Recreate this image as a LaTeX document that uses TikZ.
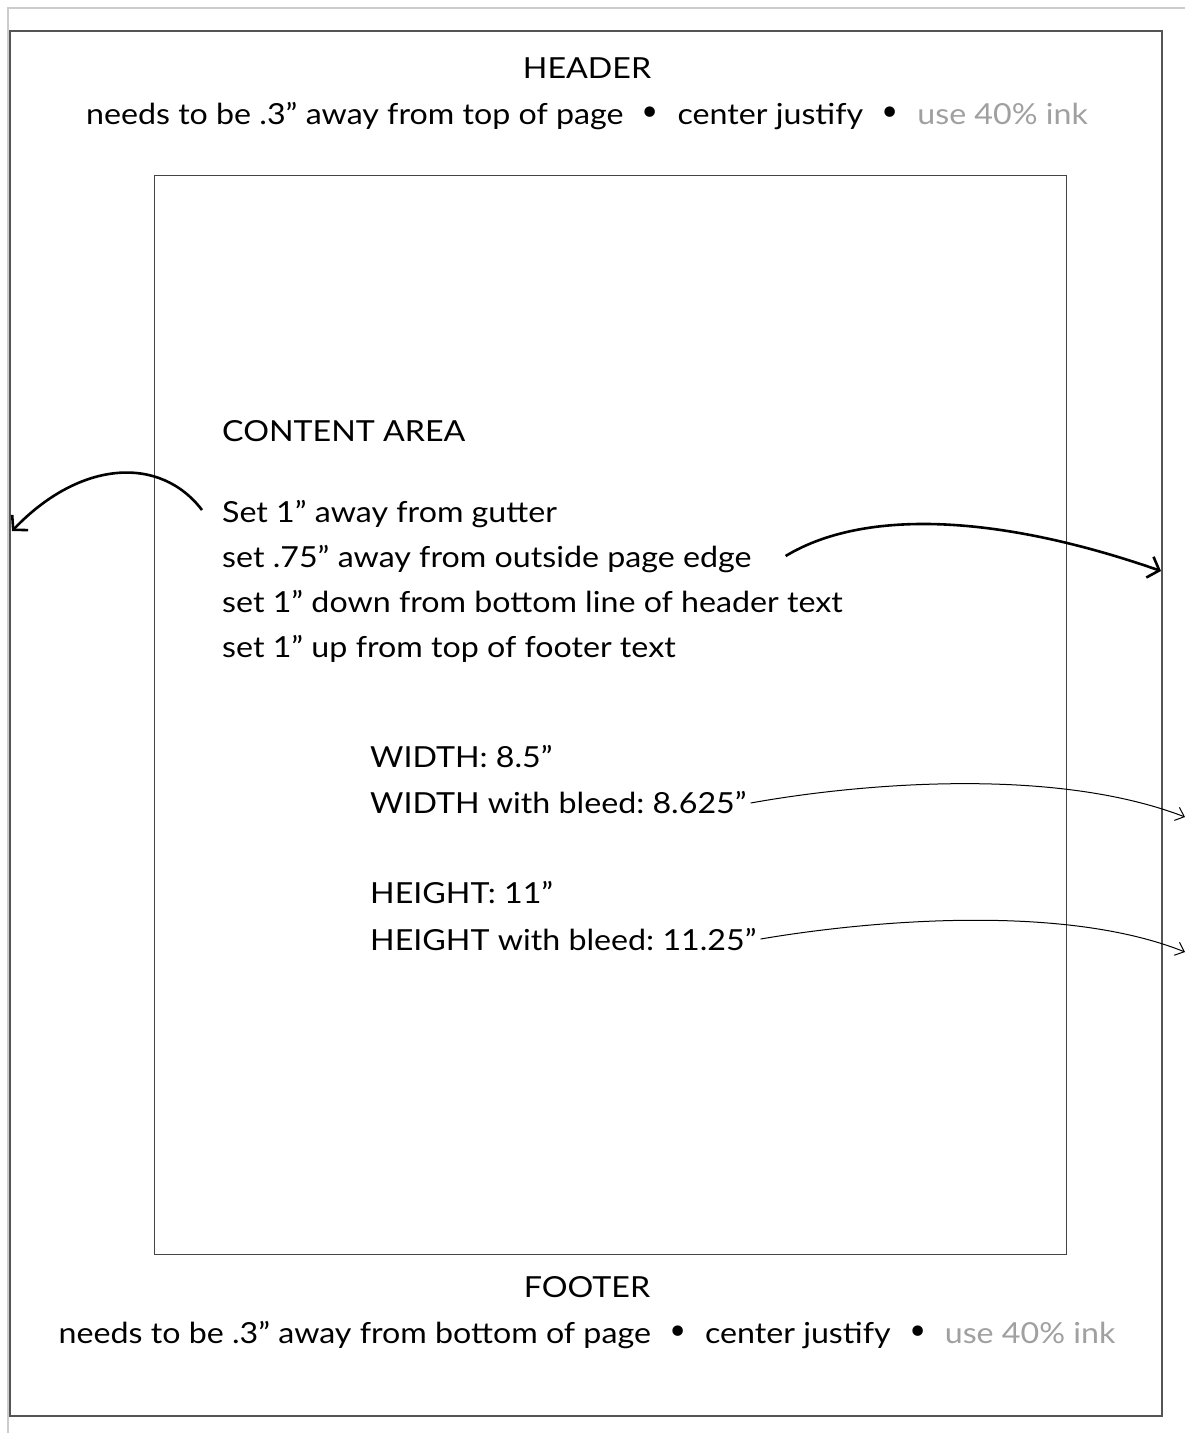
\documentclass[tikz,border=0pt]{standalone}
\usepackage{fontspec}
\setmainfont{Lato}[FakeStretch=1.11]
\newfontfamily\bulletfont{DejaVu Sans}
\usetikzlibrary{arrows.meta}
\definecolor{inkgray}{HTML}{A0A0A0}
\definecolor{framegray}{HTML}{555555}
\definecolor{edgegray}{HTML}{CCCCCC}
\newcommand{\sepdot}{\ \ \raisebox{-1.5pt}{\bulletfont\fontsize{36}{36}\selectfont •}\ \ }
\tikzset{
  txt/.style={inner sep=0pt, font=\fontsize{29}{45}\selectfont\frenchspacing, text=black},
  leftline/.style={txt, anchor=base west},
  midline/.style={txt, anchor=base},
  bigarrow/.style={line width=2.6pt, -{Straight Barb[length=10pt,width=22pt,line width=2.6pt]}},
  thinarrow/.style={line width=1pt, -{Straight Barb[length=8pt,width=14pt,line width=1pt]}},
}
\begin{document}
\begin{tikzpicture}[x=1pt,y=-1pt]
\useasboundingbox (0,0) rectangle (1185,1433);
% outer light edge
\draw[edgegray, line width=2pt] (8,1433) -- (8,8) -- (1185,8);
% page
\draw[framegray, line width=1.5pt] (10,31) rectangle (1162,1416);
% content area
\draw[framegray!80!black, line width=1pt] (154.5,175) rectangle (1066,1254);
% header
\node[midline] (hdr) at (587,78) {HEADER};
\node[midline] (hdr2) at (587,124) {needs to be .3” away from top of page\sepdot center justify\sepdot\textcolor{inkgray}{use 40\% ink}};
% footer
\node[midline] (ftr) at (587,1297) {FOOTER};
\node[midline] (ftr2) at (587,1343) {needs to be .3” away from bottom of page\sepdot center justify\sepdot\textcolor{inkgray}{use 40\% ink}};
% content
\node[leftline] (ca) at (222,441) {CONTENT AREA};
\node[leftline] (l1) at (222,522) {Set 1” away from gutter};
\node[leftline] (l2) at (222,567) {set .75” away from outside page edge};
\node[leftline] (l3) at (222,612) {set 1” down from bottom line of header text};
\node[leftline] (l4) at (222,657) {set 1” up from top of footer text};
\node[leftline] (w1) at (370,767) {WIDTH: 8.5”};
\node[leftline] (w2) at (370,813) {WIDTH with bleed: 8.625”};
\node[leftline] (h1) at (370,903) {HEIGHT: 11”};
\node[leftline] (h2) at (370,950) {HEIGHT with bleed: 11.25”};
% arrow end points
\coordinate (gutter) at (12,531);
\coordinate (outside) at (1161,571);
\coordinate (wend) at (1185,817);
\coordinate (hend) at (1185,952);
\draw[bigarrow] ([xshift=-20pt,yshift=12pt]l1.base west) .. controls (160,455) and (80,460) .. (gutter);
\draw[bigarrow] ([xshift=34pt,yshift=11pt]l2.base east) .. controls (865,508) and (1000,515) .. (outside);
\draw[thinarrow] ([xshift=4pt,yshift=10pt]w2.base east) .. controls (850,785) and (1050,765) .. (wend);
\draw[thinarrow] ([xshift=4pt,yshift=11pt]h2.base east) .. controls (860,922) and (1060,902) .. (hend);
\end{tikzpicture}
\end{document}
